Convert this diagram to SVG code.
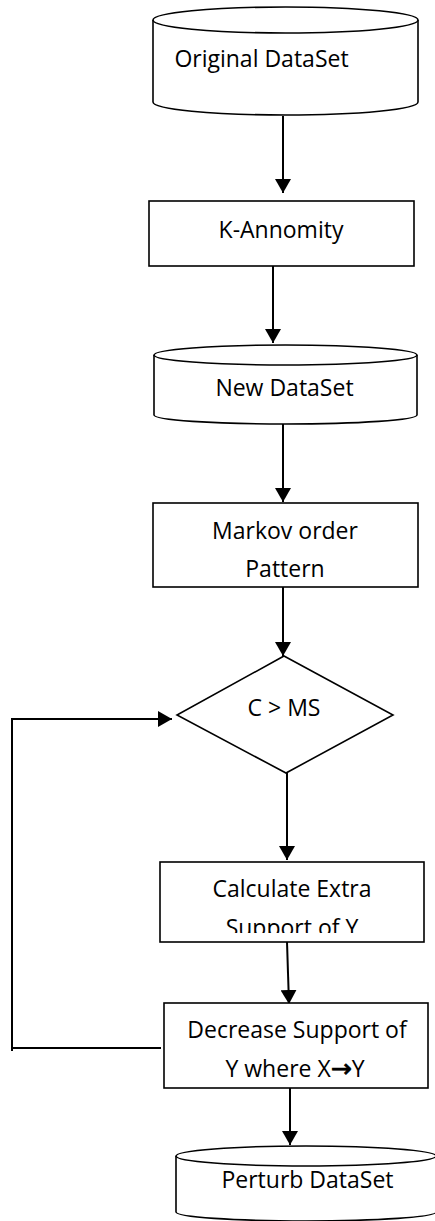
<svg xmlns="http://www.w3.org/2000/svg" width="435" height="1221" viewBox="0 0 435 1221">
<style>
.shape{fill:#fff;stroke:#000;stroke-width:1.6}
.conn{fill:none;stroke:#000;stroke-width:2}
.lbl{font-family:"Open Sans","Liberation Sans",sans-serif;font-size:23px;fill:#000;text-anchor:middle}
.arr{font-family:"DejaVu Sans",sans-serif;font-size:25px;stroke:#000;stroke-width:0.8}
</style>
<defs>
<marker id="ah" markerUnits="userSpaceOnUse" viewBox="0 0 14 16" refX="14" refY="8" markerWidth="14" markerHeight="16" orient="auto">
<path d="M0,0 L14,8 L0,16 z" fill="#000"/>
</marker>
<clipPath id="clipCalc"><rect x="160" y="862" width="264" height="71"/></clipPath>
</defs>
<rect width="435" height="1221" fill="#fff"/>
<g id="connectors">
<line class="conn" x1="283" y1="116" x2="283" y2="193" marker-end="url(#ah)"/>
<line class="conn" x1="273" y1="266" x2="273" y2="343" marker-end="url(#ah)"/>
<line class="conn" x1="283" y1="424" x2="283" y2="502" marker-end="url(#ah)"/>
<line class="conn" x1="283" y1="587" x2="283" y2="656" marker-end="url(#ah)"/>
<line class="conn" x1="287" y1="773" x2="287" y2="860" marker-end="url(#ah)"/>
<line class="conn" x1="287" y1="942" x2="289" y2="1004" marker-end="url(#ah)"/>
<line class="conn" x1="290" y1="1088" x2="290" y2="1145" marker-end="url(#ah)"/>
<line class="conn" x1="12" y1="718" x2="12" y2="1051"/>
<line class="conn" x1="12" y1="1048" x2="161" y2="1048"/>
<line class="conn" x1="12" y1="719" x2="172" y2="719" marker-end="url(#ah)"/>
</g>
<g id="original">
<path class="shape" d="M153,20 V102 A132.5,13 0 0 0 418,102 V20"/>
<ellipse class="shape" cx="285.5" cy="20" rx="132.5" ry="13"/>
<text class="lbl" x="261.5" y="67">Original DataSet</text>
</g>
<g id="kanon">
<rect class="shape" x="149" y="201" width="265" height="65"/>
<text class="lbl" x="281" y="238">K-Annomity</text>
</g>
<g id="newds">
<path class="shape" d="M154,355 V415 A131.5,9 0 0 0 417,415 V355"/>
<ellipse class="shape" cx="285.5" cy="355" rx="131.5" ry="10"/>
<text class="lbl" x="284.5" y="396">New DataSet</text>
</g>
<g id="markov">
<rect class="shape" x="153" y="503" width="265" height="84"/>
<text class="lbl" x="285" y="539">Markov order</text>
<text class="lbl" x="285" y="577">Pattern</text>
</g>
<g id="decision">
<path class="shape" d="M284,656 L393,715 L286,773 L177,715 z"/>
<text class="lbl" x="284" y="716">C &gt; MS</text>
</g>
<g id="calc">
<rect class="shape" x="160" y="862" width="264" height="80"/>
<text class="lbl" x="292" y="897">Calculate Extra</text>
<text class="lbl" x="292" y="936" clip-path="url(#clipCalc)">Support of Y</text>
</g>
<g id="decrease">
<rect class="shape" x="164" y="1003" width="264" height="85"/>
<text class="lbl" x="297" y="1038">Decrease Support of</text>
<text class="lbl" x="295" y="1077">Y where X<tspan class="arr">→</tspan>Y</text>
</g>
<g id="perturb">
<path class="shape" d="M176,1156 V1212 A130,9 0 0 0 436,1212 V1156"/>
<ellipse class="shape" cx="306" cy="1156" rx="130" ry="10"/>
<text class="lbl" x="307.5" y="1188">Perturb DataSet</text>
</g>
</svg>
